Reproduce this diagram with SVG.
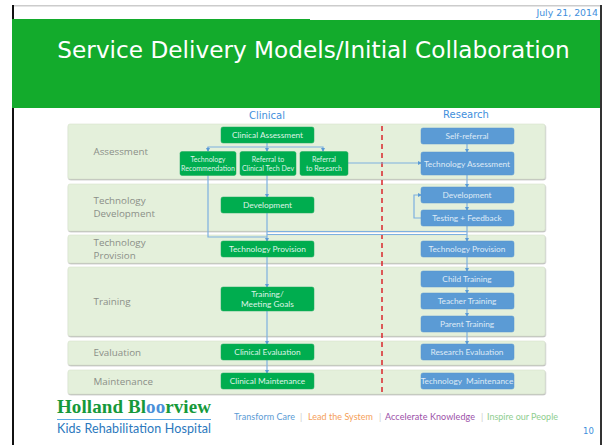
<svg xmlns="http://www.w3.org/2000/svg" width="602" height="445" viewBox="0 0 602 445">
<style>
text{font-family:"Lato","Liberation Sans",sans-serif}
.band{fill:#e4f0db;stroke:#d6e2cc;stroke-width:.6}
.bl{font-family:"Open Sans","Liberation Sans",sans-serif;font-size:9.800px;fill:#8b8f88}
.g rect{fill:#00ad4f;stroke:#1fa85c;stroke-width:.5}
.b rect{fill:#5b9bd5;stroke:#5a96cc;stroke-width:.5}
.g text{fill:#dff3e6;font-size:8.300px;text-anchor:middle}
.b text{fill:#dfeaf6;font-size:8.300px;text-anchor:middle}
.g text.sm{font-size:7px}
.c{fill:none;stroke:#7db0e0;stroke-width:1.200}
.h{font-family:"DejaVu Sans",sans-serif;font-size:10px;fill:#3f8fdc;text-anchor:middle}
.t{font-size:9px}
</style>
<defs>
<marker id="a" markerWidth="4" markerHeight="4" refX="3" refY="2" orient="auto" markerUnits="userSpaceOnUse"><path d="M0 0L4 2L0 4Z" fill="#5b9bd5"/></marker>
<filter id="s" x="-5%" y="-10%" width="110%" height="125%"><feDropShadow dx="0.5" dy="1" stdDeviation="0.6" flood-color="#777" flood-opacity=".55"/></filter>
</defs>
<rect width="602" height="445" fill="#fff"/>
<rect x="12" y="5" width="590" height="1.500" fill="#ccc"/>
<rect x="12" y="5" width="2" height="440" fill="#111"/>
<rect x="600" y="5" width="2" height="440" fill="#333"/>
<rect x="12" y="19" width="298" height="89" fill="#13ab2c"/>
<rect x="310" y="20" width="290" height="88" fill="#13ab2c"/>
<text x="598" y="16" text-anchor="end" style="font-family:'DejaVu Sans',sans-serif;font-size:9.400px;fill:#3f8fdc">July 21, 2014</text>
<text x="313.500" y="58" text-anchor="middle" style="font-family:'DejaVu Sans',sans-serif;font-size:23.200px;fill:#fff">Service Delivery Models/Initial Collaboration</text>
<text class="h" x="267" y="119">Clinical</text>
<text class="h" x="466" y="118">Research</text>
<g id="bands" filter="url(#s)">
<rect class="band" x="68" y="124" width="477" height="55" rx="2"/>
<rect class="band" x="68" y="184" width="477" height="47" rx="2"/>
<rect class="band" x="68" y="235" width="477" height="28" rx="2"/>
<rect class="band" x="68" y="267" width="477" height="69" rx="2"/>
<rect class="band" x="68" y="341" width="477" height="24" rx="2"/>
<rect class="band" x="68" y="370" width="477" height="24" rx="2"/>
</g>
<g id="band-labels">
<text class="bl" x="93.500" y="155">Assessment</text>
<text class="bl" x="93.500" y="204">Technology</text>
<text class="bl" x="93.500" y="217">Development</text>
<text class="bl" x="93.500" y="246">Technology</text>
<text class="bl" x="93.500" y="259">Provision</text>
<text class="bl" x="93.500" y="305">Training</text>
<text class="bl" x="93.500" y="356">Evaluation</text>
<text class="bl" x="93.500" y="385">Maintenance</text>
</g>
<path id="divider" d="M382 126V394" fill="none" stroke="#d9262c" stroke-width="1.500" stroke-dasharray="5 4"/>
<g id="connectors">
<path class="c" d="M267 143V151" marker-end="url(#a)"/>
<path class="c" d="M208 151V147H323V151" marker-end="url(#a)"/>
<path class="c" d="M208 147V151" marker-end="url(#a)"/>
<path class="c" d="M267 175V197" marker-end="url(#a)"/>
<path class="c" d="M208 175V237H267"/>
<path class="c" d="M267 213V241" marker-end="url(#a)"/>
<path class="c" d="M267 231.500H467M267 234.500H467"/>
<path class="c" d="M267 257V287" marker-end="url(#a)"/>
<path class="c" d="M267 311V344" marker-end="url(#a)"/>
<path class="c" d="M267 360V373" marker-end="url(#a)"/>
<path class="c" d="M348 163H421" marker-end="url(#a)"/>
<path class="c" d="M467 144V152" marker-end="url(#a)"/>
<path class="c" d="M467 175V187" marker-end="url(#a)"/>
<path class="c" d="M467 203V210" marker-end="url(#a)"/>
<path class="c" d="M421 218H414V195H421" marker-end="url(#a)"/>
<path class="c" d="M467 226V241" marker-end="url(#a)"/>
<path class="c" d="M467 257V271" marker-end="url(#a)"/>
<path class="c" d="M467 287V293" marker-end="url(#a)"/>
<path class="c" d="M467 309V316" marker-end="url(#a)"/>
<path class="c" d="M467 332V344" marker-end="url(#a)"/>
</g>
<g id="clinical-assessment" class="g"><rect x="221" y="127" width="93" height="16" rx="2"/><text x="267.500" y="138">Clinical Assessment</text></g>
<g id="technology-recommendation" class="g"><rect x="180" y="151.500" width="56" height="24" rx="2"/><text class="sm" x="208" y="161.500">Technology</text><text class="sm" x="208" y="170.500">Recommendation</text></g>
<g id="referral-clinical" class="g"><rect x="240" y="151.500" width="56" height="24" rx="2"/><text class="sm" x="268" y="161.500">Referral to</text><text class="sm" x="268" y="170.500">Clinical Tech Dev</text></g>
<g id="referral-research" class="g"><rect x="300" y="151.500" width="48" height="24" rx="2"/><text class="sm" x="324" y="161.500">Referral</text><text class="sm" x="324" y="170.500">to Research</text></g>
<g id="development-c" class="g"><rect x="221" y="197" width="93" height="16" rx="2"/><text x="267.500" y="208">Development</text></g>
<g id="provision-c" class="g"><rect x="221" y="241" width="93" height="16" rx="2"/><text x="267.500" y="252">Technology Provision</text></g>
<g id="training-c" class="g"><rect x="221" y="287" width="93" height="24" rx="2"/><text x="267.500" y="297">Training/</text><text x="267.500" y="307">Meeting Goals</text></g>
<g id="evaluation-c" class="g"><rect x="221" y="344" width="93" height="16" rx="2"/><text x="267.500" y="355">Clinical Evaluation</text></g>
<g id="maintenance-c" class="g"><rect x="221" y="373" width="93" height="16" rx="2"/><text x="267.500" y="384">Clinical Maintenance</text></g>
<g id="self-referral" class="b"><rect x="421" y="128" width="93" height="16" rx="2"/><text x="467" y="139">Self-referral</text></g>
<g id="tech-assessment" class="b"><rect x="421" y="152" width="93" height="23" rx="2"/><text x="467" y="166.500">Technology Assessment</text></g>
<g id="development-r" class="b"><rect x="421" y="187" width="93" height="16" rx="2"/><text x="467" y="198">Development</text></g>
<g id="testing" class="b"><rect x="421" y="210" width="93" height="16" rx="2"/><text x="467" y="221">Testing + Feedback</text></g>
<g id="provision-r" class="b"><rect x="421" y="241" width="93" height="16" rx="2"/><text x="467" y="252">Technology Provision</text></g>
<g id="child" class="b"><rect x="421" y="271" width="93" height="16" rx="2"/><text x="467" y="282">Child Training</text></g>
<g id="teacher" class="b"><rect x="421" y="293" width="93" height="16" rx="2"/><text x="467" y="304">Teacher Training</text></g>
<g id="parent" class="b"><rect x="421" y="316" width="93" height="16" rx="2"/><text x="467" y="327">Parent Training</text></g>
<g id="evaluation-r" class="b"><rect x="421" y="344" width="93" height="16" rx="2"/><text x="467" y="355">Research Evaluation</text></g>
<g id="maintenance-r" class="b"><rect x="421" y="373" width="93" height="16" rx="2"/><text x="467" y="384" xml:space="preserve">Technology  Maintenance</text></g>
<g id="logo">
<text x="57" y="413" textLength="154" style="font-family:'Liberation Serif',serif;font-weight:bold;font-size:19px;fill:#16993a">Holland Bl<tspan style="fill:#4a90d9">oo</tspan>rview</text>
<rect x="57" y="419" width="154" height="1" fill="#5baae5"/>
<text x="57" y="433" textLength="154" style="font-size:12.500px;fill:#2b78bd">Kids Rehabilitation Hospital</text>
</g>
<g id="tagline">
<text class="t" x="234" y="420" textLength="61" fill="#5b9bd5">Transform Care</text>
<text class="t" x="300" y="420" fill="#ccc">|</text>
<text class="t" x="308" y="420" textLength="65" fill="#f5a05a">Lead the System</text>
<text class="t" x="379" y="420" fill="#ccc">|</text>
<text class="t" x="385" y="420" textLength="90" fill="#9b4fa8">Accelerate Knowledge</text>
<text class="t" x="481" y="420" fill="#ccc">|</text>
<text class="t" x="487" y="420" textLength="71" fill="#8fce8f">Inspire our People</text>
</g>
<text x="583" y="434" style="font-family:'DejaVu Sans',sans-serif;font-size:8.500px;fill:#3f8fdc">10</text>
</svg>
